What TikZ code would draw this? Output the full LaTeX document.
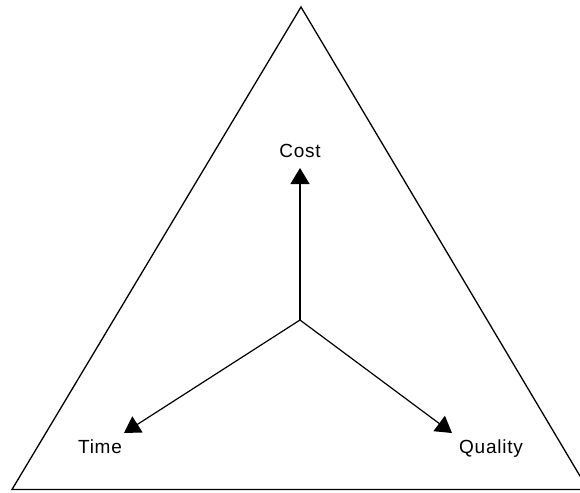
\documentclass[tikz,border=0pt]{standalone}
\usepackage{fontspec}
\setmainfont{Liberation Sans}[LetterSpace=4]
\usetikzlibrary{arrows.meta}
\tikzset{
  frame/.style={line width=1.3pt, line join=miter},
  axis/.style={line width=1.2pt, -{Triangle[length=16pt,width=19pt]}},
  lbl/.style={font=\fontsize{19}{22}\selectfont, inner sep=0pt, anchor=base}
}
\begin{document}
\begin{tikzpicture}[x=1pt,y=-1pt]
\useasboundingbox (0,0) rectangle (580,492);
\clip (0,0) rectangle (580,492);
\coordinate (apex) at (301,7);
\coordinate (bl) at (12,489.5);
\coordinate (br) at (588,489.5);
\draw[frame] (apex) -- (bl) -- (br) -- cycle;
\coordinate (o) at (300,320);
\coordinate (tc) at (300,168);
\coordinate (tt) at (124,433);
\coordinate (tq) at (452,433);
\draw[axis] (o) -- (tc);
\draw[axis] (o) -- (tt);
\draw[axis] (o) -- (tq);
\node[lbl] (cost) at (300,157) {Cost};
\node[lbl] (time) at (100,453.5) {Time};
\node[lbl] (quality) at (491,453.5) {Quality};
\end{tikzpicture}
\end{document}
